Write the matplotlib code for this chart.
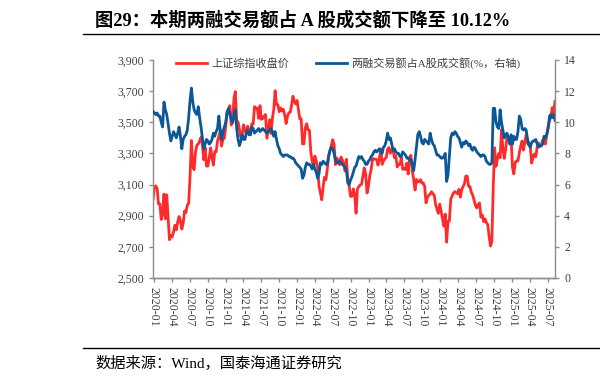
import pandas as pd
import matplotlib
matplotlib.use('Agg')
import matplotlib.pyplot as plt
from matplotlib.lines import Line2D
from matplotlib.ticker import FuncFormatter

# 周度数据, 起点 2019-12-27 (周五)
start_date = '2019-12-27'

# 上证综指收盘价 (左轴)
sh_close = [
    3005,
    # 2020
    3083, 3092, 3075, 2976, 2976, 2876, 2917, 3039, 2880, 3034, 2887, 2746, 2772,
    2764, 2797, 2839, 2809, 2860, 2895, 2868, 2814, 2852, 2931, 2920, 2968, 2980,
    3152, 3383, 3214, 3196, 3310, 3354, 3360, 3381, 3404, 3355, 3260, 3338, 3219,
    3218, 3272, 3336, 3278, 3225, 3312, 3310, 3378, 3408, 3445, 3347, 3395, 3397,
    # 2021
    3473, 3570, 3566, 3607, 3483, 3496, 3655, 3697, 3509, 3502, 3454, 3405, 3418,
    3484, 3451, 3427, 3475, 3447, 3419, 3490, 3487, 3601, 3592, 3590, 3525, 3607,
    3519, 3525, 3539, 3550, 3397, 3458, 3517, 3428, 3522, 3582, 3703, 3614, 3613,
    3568, 3592, 3572, 3583, 3547, 3492, 3539, 3561, 3564, 3608, 3667, 3633, 3618, 3640,
    # 2022
    3580, 3522, 3523, 3361, 3361, 3463, 3491, 3452, 3448, 3310, 3251, 3212, 3283,
    3252, 3211, 3087, 3047, 3002, 3084, 3147, 3131, 3196, 3285, 3317, 3350, 3388,
    3357, 3228, 3270, 3253, 3227, 3277, 3258, 3236, 3186, 3262, 3126, 3089, 3024,
    3024, 3072, 3038, 2916, 3071, 3087, 3097, 3102, 3156, 3207, 3168, 3046, 3089,
    # 2023
    3157, 3195, 3265, 3265, 3263, 3261, 3225, 3267, 3329, 3230, 3251, 3266, 3273,
    3327, 3338, 3301, 3323, 3323, 3272, 3284, 3213, 3231, 3231, 3273, 3198, 3202,
    3197, 3237, 3168, 3276, 3288, 3189, 3132, 3065, 3133, 3117, 3118, 3132, 3110,
    3110, 3088, 2983, 3017, 3031, 3039, 3054, 3041, 3032, 2970, 2942, 2915, 2975,
    # 2024
    2929, 2882, 2833, 2910, 2730, 2866, 2866, 3005, 3027, 3046, 3055, 3048, 3041,
    3069, 3019, 3066, 3088, 3105, 3155, 3154, 3089, 3087, 3051, 3033, 2999, 2967,
    2950, 2971, 2982, 2891, 2905, 2862, 2880, 2855, 2843, 2766, 2705, 2737, 3088,
    3336, 3217, 3262, 3300, 3273, 3452, 3331, 3268, 3326, 3404, 3392, 3368, 3400,
    # 2025
    3211, 3169, 3241, 3253, 3251, 3304, 3347, 3379, 3321, 3373, 3419, 3365, 3352,
    3342, 3238, 3277, 3296, 3279, 3342, 3367, 3348, 3347, 3385, 3377, 3360, 3424,
    3473, 3510, 3534, 3594, 3560, 3635,
]

# 两融交易额占A股成交额 (%, 右轴)
margin_share = [
    10.7,
    # 2020
    10.6, 10.5, 10.6, 10.4, 10.4, 10.0, 9.7, 11.3, 10.8, 10.5, 9.9, 9.3, 8.8,
    9.1, 9.4, 9.2, 9.0, 9.3, 9.7, 9.1, 8.3, 8.9, 9.1, 9.2, 9.5, 10.3,
    11.4, 12.2, 11.3, 10.8, 10.6, 10.5, 11.0, 10.3, 9.7, 9.0, 8.3, 8.6, 8.9,
    8.8, 8.6, 8.7, 8.9, 9.3, 9.1, 9.4, 9.6, 10.4, 9.5, 8.9, 9.4, 9.7,
    # 2021
    10.0, 10.6, 10.9, 10.5, 10.2, 10.0, 10.4, 10.8, 9.6, 8.9, 8.5, 8.8, 9.2,
    8.9, 8.9, 9.3, 9.5, 9.2, 9.2, 9.7, 9.6, 9.3, 9.4, 9.5, 9.6, 9.4,
    9.5, 9.6, 9.5, 9.4, 9.3, 9.4, 9.5, 9.6, 9.4, 9.1, 9.4, 8.9, 8.5,
    8.3, 8.0, 7.9, 7.8, 7.9, 7.9, 7.9, 7.8, 7.8, 7.7, 7.7, 7.6, 7.4, 7.3,
    # 2022
    7.2, 7.1, 7.0, 6.4, 6.6, 7.1, 7.4, 7.3, 7.3, 7.2, 7.0, 7.3, 7.0,
    6.8, 6.4, 6.7, 7.4, 7.3, 7.5, 7.4, 7.3, 7.3, 7.8, 8.2, 8.4, 8.3,
    8.0, 7.6, 7.4, 7.4, 7.5, 7.4, 7.3, 7.2, 7.1, 6.9, 6.1, 6.0, 6.3,
    6.5, 6.8, 7.1, 7.2, 7.5, 7.8, 7.7, 7.8, 7.6, 7.5, 7.3, 7.3, 7.5,
    # 2023
    7.6, 7.8, 7.9, 8.1, 8.2, 8.1, 8.2, 8.3, 8.1, 8.0, 8.4, 8.5, 8.8,
    9.3, 8.9, 9.0, 8.6, 8.2, 8.3, 8.1, 8.0, 8.0, 7.8, 7.8, 8.1, 8.0,
    7.9, 7.7, 7.7, 7.6, 7.6, 7.3, 6.9, 7.6, 8.4, 9.2, 9.4, 9.1, 8.7,
    8.6, 8.9, 8.8, 8.7, 8.6, 9.3, 8.9, 8.6, 8.5, 8.2, 7.9, 7.9, 7.8,
    # 2024
    7.7, 7.7, 7.8, 8.0, 6.2, 6.6, 7.8, 9.0, 9.3, 9.2, 9.4, 9.3, 9.1,
    9.0, 8.7, 8.4, 8.7, 8.6, 8.8, 8.7, 8.5, 8.6, 8.3, 8.2, 8.4, 8.3,
    8.1, 8.0, 7.9, 7.8, 7.9, 7.9, 7.8, 7.5, 7.4, 7.3, 7.3, 7.4, 10.9,
    10.9, 10.0, 9.7, 9.6, 10.8, 10.0, 9.5, 9.0, 9.2, 9.3, 9.0, 8.6, 9.2,
    # 2025
    8.6, 9.1, 8.9, 8.9, 9.4, 10.4, 10.2, 9.6, 9.5, 9.6, 9.5, 8.9, 8.6,
    8.4, 8.7, 8.8, 8.8, 8.9, 8.6, 8.4, 8.5, 8.5, 8.6, 9.1, 9.0, 9.2,
    9.6, 10.4, 10.5, 10.3, 10.5, 10.12,
]

left_ticks = [2500, 2700, 2900, 3100, 3300, 3500, 3700, 3900]
right_ticks = [0, 2, 4, 6, 8, 10, 12, 14]

title = '图29：本期两融交易额占 A 股成交额下降至 10.12%'
source = '数据来源：Wind，国泰海通证券研究'
label_red = '上证综指收盘价'
label_blue = '两融交易额占A股成交额(%，右轴)'

plt.rcParams['font.family'] = ['Liberation Serif', 'Noto Sans CJK SC']

dates = pd.date_range(start_date, periods=len(sh_close), freq='W-FRI')
tick_dates = pd.date_range('2020-01-01', '2025-07-01', freq='3MS')

red = '#FF2B2B'
blue = '#0C5896'
gray = '#8C8C8C'
txt = '#404040'

fig = plt.figure(figsize=(6.0, 3.85), dpi=100)
ax = fig.add_axes([153 / 600, 1 - 278 / 385, (555 - 153) / 600, (278 - 60) / 385])
ax2 = ax.twinx()

l1, = ax.plot(dates, sh_close, color=red, lw=2.0, label=label_red)
l2, = ax2.plot(dates, margin_share, color=blue, lw=2.0, label=label_blue)

ax.set_ylim(2500, 3900)
ax.set_yticks(left_ticks)
ax.yaxis.set_major_formatter(FuncFormatter(lambda v, p: f'{int(v):,}'))
ax2.set_ylim(0, 14)
ax2.set_yticks(right_ticks)
ax.set_xlim(dates[0], dates[-1])
ax.set_xticks(tick_dates)
ax.set_xticklabels([d.strftime('%Y-%m') for d in tick_dates], rotation=-90,
                   va='top', ha='center')

for a in (ax, ax2):
    for s in a.spines.values():
        s.set_color(gray)
        s.set_linewidth(1.0)
    a.spines['top'].set_visible(False)
    a.tick_params(colors=gray, labelcolor=txt, labelsize=8.5, length=3, width=1)
ax2.spines['left'].set_visible(False)
ax.spines['right'].set_visible(False)

ax.legend(handles=[l1, l2], loc='upper center', bbox_to_anchor=(0.486, 1.06),
          ncol=2, frameon=False, fontsize=8, handlelength=2.8,
          columnspacing=2.4, handletextpad=0.4, labelcolor=txt)

fig.text(95 / 600, 1 - 20 / 385, title, fontsize=13.2, fontweight='bold',
         va='center', ha='left', color='black')
fig.add_artist(Line2D([83 / 600, 1.0], [1 - 34 / 385] * 2, color='black', lw=1.0))
fig.add_artist(Line2D([83 / 600, 1.0], [1 - 348 / 385] * 2, color='black', lw=1.0))
fig.text(95 / 600, 1 - 363 / 385, source, fontsize=11, va='center', ha='left',
         color='black')

fig.savefig('out.png', dpi=100)
